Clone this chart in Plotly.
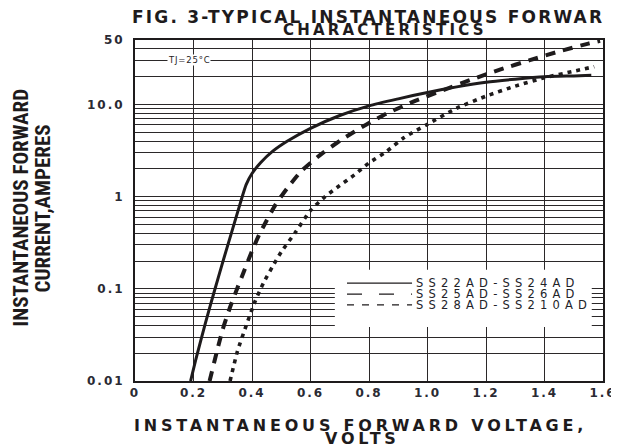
import plotly.graph_objects as go

# ---------------- data ----------------
series_names = ["SS22AD-SS24AD", "SS25AD-SS26AD", "SS28AD-SS210AD"]

v_ss22 = [0.19, 0.21, 0.24, 0.27, 0.30, 0.33, 0.36, 0.38, 0.40, 0.43,
          0.47, 0.52, 0.60, 0.70, 0.80, 0.90, 1.0, 1.1, 1.2, 1.3,
          1.4, 1.5, 1.56]
i_ss22 = [0.01, 0.0182, 0.0417, 0.0912, 0.195, 0.407, 0.851, 1.35, 1.78, 2.34,
          3.09, 3.98, 5.5, 7.59, 9.66, 11.5, 13.5, 15.5, 17.4, 18.8,
          20.0, 20.4, 20.7]

v_ss25 = [0.255, 0.28, 0.30, 0.325, 0.35, 0.375, 0.40, 0.425, 0.45, 0.48,
          0.52, 0.57, 0.64, 0.71, 0.79, 0.86, 0.96, 1.05, 1.15, 1.25,
          1.35, 1.45, 1.55, 1.59]
i_ss25 = [0.01, 0.0209, 0.0363, 0.0631, 0.102, 0.162, 0.257, 0.389, 0.55, 0.813,
          1.23, 1.91, 2.95, 4.22, 6.03, 7.94, 11.0, 14.1, 18.6, 24.0,
          30.2, 37.6, 45.7, 49.0]

v_ss28 = [0.325, 0.35, 0.38, 0.41, 0.44, 0.47, 0.50, 0.55, 0.60, 0.65,
          0.70, 0.75, 0.80, 0.86, 0.92, 1.0, 1.1, 1.2, 1.3, 1.4,
          1.5, 1.57]
i_ss28 = [0.01, 0.0209, 0.0398, 0.0724, 0.1175, 0.174, 0.251, 0.417, 0.708, 1.0,
          1.32, 1.72, 2.32, 3.09, 4.37, 6.1, 9.1, 12.3, 15.8, 19.5,
          22.9, 25.7]

x_tick_vals = [0, 0.2, 0.4, 0.6, 0.8, 1.0, 1.2, 1.4, 1.6]
x_tick_text = ["0", "0.2", "0.4", "0.6", "0.8", "1.0", "1.2", "1.4", "1.6"]
y_tick_vals = [0.01, 0.1, 1, 10, 50]
y_tick_text = ["0.01", "0.1", "1", "10.0", "50"]

title_line1 = "FIG. 3-TYPICAL INSTANTANEOUS FORWAR"
title_line2 = "CHARACTERISTICS"
x_title_line1 = "INSTANTANEOUS FORWARD VOLTAGE,"
x_title_line2 = "VOLTS"
y_title_line1 = "INSTANTANEOUS FORWARD"
y_title_line2 = "CURRENT,AMPERES"
tj_label = "TJ=25°C"

# ---------------- styling ----------------
INK = "#1e1b1c"
GRID = "#2b2829"
TXT = "#2a2a33"
BOLD = "DejaVu Sans"
NARROW = "Roboto Condensed, Liberation Sans Narrow, Liberation Sans"


def spaced(t, px):
    return f'<span style="letter-spacing:{px}px">{t}</span>'


# minor grid positions 2..9 per decade
minor_vals = []
for dec in [0.01, 0.1, 1, 10]:
    for k in range(2, 10):
        val = round(k * dec, 6)
        if val < 50:
            minor_vals.append(val)

fig = go.Figure()

curve_styles = [
    dict(width=3.0, dash="solid"),
    dict(width=4.0, dash="10px,8px"),
    dict(width=3.6, dash="4px,5px"),
]
for name, vx, iy, st in zip(series_names, [v_ss22, v_ss25, v_ss28],
                            [i_ss22, i_ss25, i_ss28], curve_styles):
    fig.add_trace(go.Scatter(
        x=vx, y=iy, mode="lines", name=name, showlegend=False,
        line=dict(color=INK, width=st["width"], dash=st["dash"],
                  shape="spline", smoothing=0.6),
        hoverinfo="skip"))

# legend box (white area covering the grid)
fig.add_shape(type="rect", xref="paper", yref="paper",
              x0=0.427, x1=0.976, y0=0.158, y1=0.326,
              fillcolor="white", line=dict(width=0), layer="above")
legend_rows_y = [0.287, 0.255, 0.223]
legend_dash = ["solid", "15px,17px", "7px,8px"]
for name, yy, dd in zip(series_names, legend_rows_y, legend_dash):
    fig.add_shape(type="line", xref="paper", yref="paper",
                  x0=0.453, x1=0.592, y0=yy, y1=yy,
                  line=dict(color=INK, width=1.2, dash=dd), layer="above")
    fig.add_annotation(xref="paper", yref="paper", x=0.596, y=yy,
                       xanchor="left", yanchor="middle", showarrow=False,
                       text=spaced(name, 5.2),
                       font=dict(family=BOLD, size=11.5, color="#222228"))

# TJ label
fig.add_annotation(x=0.183, y=1.477, xref="x", yref="y", showarrow=False,
                   text=spaced(tj_label, 0.8), bgcolor="white", borderpad=0,
                   font=dict(family=BOLD, size=8.5, color=INK))

# titles
fig.add_annotation(xref="paper", yref="paper", x=-0.011, y=1.066,
                   xanchor="left", yanchor="middle", showarrow=False,
                   text=spaced(title_line1, 2.2),
                   font=dict(family=BOLD, size=17, color=INK, weight="bold"))
fig.add_annotation(xref="paper", yref="paper", x=0.535, y=1.028,
                   xanchor="center", yanchor="middle", showarrow=False,
                   text=spaced(title_line2, 3.2),
                   font=dict(family=BOLD, size=15, color=INK, weight="bold"))
fig.add_annotation(xref="paper", yref="paper", x=0.482, y=-0.1305,
                   xanchor="center", yanchor="middle", showarrow=False,
                   text=spaced(x_title_line1, 3.8),
                   font=dict(family=BOLD, size=16, color=INK, weight="bold"))
fig.add_annotation(xref="paper", yref="paper", x=0.487, y=-0.170,
                   xanchor="center", yanchor="middle", showarrow=False,
                   text=spaced(x_title_line2, 3.8),
                   font=dict(family=BOLD, size=16, color=INK, weight="bold"))
fig.add_annotation(xref="paper", yref="paper", x=-0.243, y=0.507,
                   xanchor="center", yanchor="middle", showarrow=False,
                   textangle=-90, text=y_title_line1,
                   font=dict(family=NARROW, size=21, color=INK, weight="bold"))
fig.add_annotation(xref="paper", yref="paper", x=-0.196, y=0.507,
                   xanchor="center", yanchor="middle", showarrow=False,
                   textangle=-90, text=y_title_line2,
                   font=dict(family=NARROW, size=21, color=INK, weight="bold"))

fig.update_xaxes(
    range=[0, 1.6], tickmode="array", tickvals=x_tick_vals,
    ticktext=[spaced(t, 2) for t in x_tick_text],
    showgrid=True, gridcolor=GRID, gridwidth=1.4, zeroline=False,
    showline=True, linecolor=INK, linewidth=2, mirror=True, ticks="",
    tickfont=dict(family=BOLD, size=12, color=TXT, weight="bold"))
fig.update_yaxes(
    type="log", range=[-2, 1.69897], tickmode="array", tickvals=y_tick_vals,
    ticktext=[spaced(t, 2) for t in y_tick_text],
    showgrid=True, gridcolor=GRID, gridwidth=1.4, zeroline=False,
    minor=dict(tickmode="array", tickvals=minor_vals, showgrid=True,
               gridcolor=GRID, gridwidth=1.2, ticks=""),
    showline=True, linecolor=INK, linewidth=2, mirror=True, ticks="",
    ticklabelstandoff=6,
    tickfont=dict(family=BOLD, size=12, color=TXT, weight="bold"))

# the page body has an 8px margin, so the figure is 8px smaller each way
fig.update_layout(
    width=611, height=440,
    margin=dict(l=127, r=16, t=32, b=67, autoexpand=False),
    paper_bgcolor="white", plot_bgcolor="white",
    showlegend=False)

fig.write_html("out.html")
